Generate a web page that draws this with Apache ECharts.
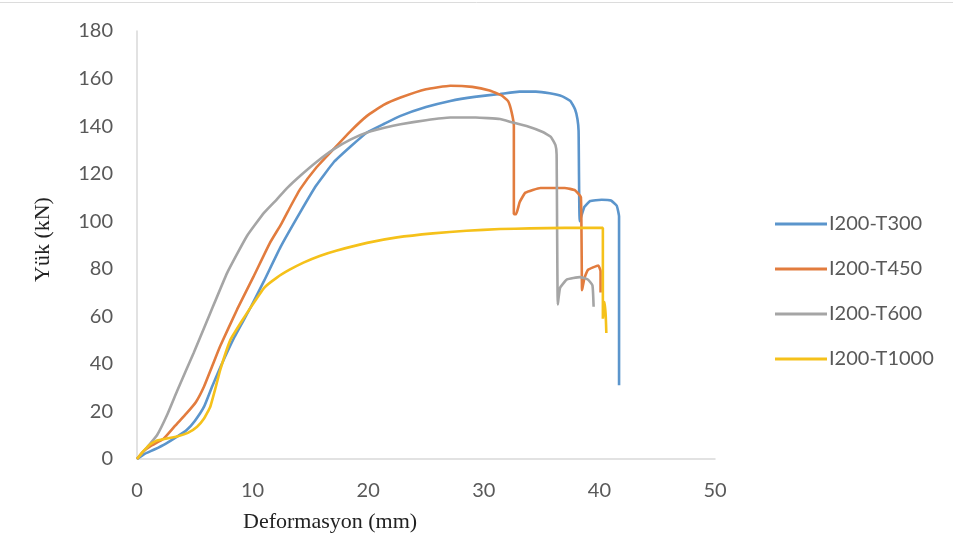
<!DOCTYPE html>
<html>
<head>
<meta charset="utf-8">
<script src="https://cdn.jsdelivr.net/npm/echarts@6/dist/echarts.min.js"></script>
<style>
  html, body { margin: 0; padding: 0; background: #fff; }
  #chart { width: 953px; height: 549px; }
</style>
</head>
<body>
<div id="chart"></div>
<script>
// Load–deformation curves, [deformation (mm), load (kN)]
const t300 = [[0,0],[0.6,2],[1.5,4],[2.5,6.5],[3.5,9.5],[4.3,12.2],[5,16],[5.8,22],[6.5,30.5],[7.2,38.5],[8.4,51],[9.8,63.5],[11,75],[12.4,89],[14.1,103.6],[15.5,115],[17,124.7],[18.5,131.5],[19.9,137.3],[21.4,141],[22.8,144.3],[25,148],[27.1,150.6],[29.2,152.3],[31.4,153.5],[33.1,154.5],[34.5,154.5],[35.7,153.8],[36.8,152.5],[37.5,150.5],[37.9,147],[38.1,143],[38.2,138],[38.3,100],[38.7,106],[39.2,108.5],[40.2,109],[41.0,108.7],[41.5,106.5],[41.7,102],[41.7,31]];
const t450 = [[0,0],[0.5,3],[1.2,5.5],[2.3,8.5],[3.3,14],[4.3,19.3],[5.1,24],[5.8,30.5],[6.5,39],[7.2,47.5],[8.65,62.8],[10.1,76.9],[11.5,90.9],[12.5,99],[13.3,106.4],[14.1,113.4],[15.5,122.5],[17,130.3],[18.5,138],[19.9,144.3],[21.3,148.8],[22.8,152],[25,155.5],[27.1,157],[29,156.5],[30.5,155],[31.5,153],[32.1,150.5],[32.4,146],[32.6,140],[32.6,103],[32.8,103],[33.1,108],[33.6,112],[34.9,114],[37,114],[37.9,113],[38.4,110],[38.5,71],[38.7,76],[39.0,79.5],[39.9,81.4],[40.1,79],[40.1,70]];
const t600 = [[0,0],[0.8,4.5],[1.73,10],[2.6,18.5],[3.46,28.5],[4.9,44.6],[6.34,61.4],[7.8,78.3],[9.5,93.7],[11,103.6],[12.1,109.2],[13,114],[14.1,119],[15.5,124.8],[17,130.2],[18.5,134.4],[19.9,137.3],[21.4,139.3],[22.8,140.8],[25,142.5],[27.1,143.6],[29.3,143.6],[31.4,143],[32.5,141.5],[33.7,140],[35.1,137.5],[35.8,135.5],[36.2,132],[36.3,128],[36.4,65],[36.6,72],[37.2,75.5],[38.3,76.5],[39.0,75.5],[39.4,73],[39.5,64]];
const t1000 = [[0,0],[0.5,3],[1.1,6],[1.73,7.8],[3.46,9.5],[4.4,11],[5.2,13.6],[5.8,17],[6.34,22],[6.8,30],[7.2,37.5],[8.07,50],[9,57.5],[9.8,63.5],[11,72],[12.1,76.3],[13.2,79.6],[14.4,82.6],[15.8,85.4],[17.3,87.7],[19.9,90.9],[22.5,93.2],[25.6,94.9],[28.5,96],[31.4,96.7],[34,97],[37,97.2],[40.3,97.2],[40.3,59],[40.45,66],[40.55,60],[40.6,53]];

const seriesNames = ['I200-T300', 'I200-T450', 'I200-T600', 'I200-T1000'];
const seriesData = [t300, t450, t600, t1000];
const colors = ['#5b95cc', '#e27c3e', '#a5a5a5', '#f5c11a'];

const xRange = { min: 0, max: 50, interval: 10 };
const yRange = { min: 0, max: 180, interval: 20 };

const labelFont = 'Lato, "Open Sans", sans-serif';
const titleFont = '"Liberation Serif", "DejaVu Serif", serif';

const chart = echarts.init(document.getElementById('chart'));
chart.setOption({
  animation: false,
  backgroundColor: '#ffffff',
  color: colors,
  grid: { left: 137, right: 238, top: 31, bottom: 90, containLabel: false },
  xAxis: {
    type: 'value',
    min: xRange.min, max: xRange.max, interval: xRange.interval,
    axisLine: { show: true, lineStyle: { color: '#d9d9d9', width: 1.5 } },
    axisTick: { show: false },
    splitLine: { show: false },
    axisLabel: { color: '#595959', fontFamily: labelFont, fontSize: 20, margin: 22 }
  },
  yAxis: {
    type: 'value',
    min: yRange.min, max: yRange.max, interval: yRange.interval,
    axisLine: { show: true, lineStyle: { color: '#d9d9d9', width: 1.5 } },
    axisTick: { show: false },
    splitLine: { show: false },
    axisLabel: { color: '#595959', fontFamily: labelFont, fontSize: 20, margin: 24 }
  },
  legend: {
    orient: 'vertical',
    left: 770, top: 209,
    itemWidth: 52, itemHeight: 16, itemGap: 25,
    icon: 'path://M0,7 L52,7 L52,10 L0,10 Z',
    textStyle: { color: '#595959', fontFamily: labelFont, fontSize: 20, padding: [0, 0, 0, -3] },
    data: seriesNames
  },
  graphic: [
    { type: 'line', shape: { x1: 0, y1: 2.5, x2: 953, y2: 2.5 }, style: { stroke: '#dcdcdc', lineWidth: 1 } },
    { type: 'text', left: 243, top: 511, style: { text: 'Deformasyon (mm)', fill: '#222', font: '22px ' + titleFont } },
    { type: 'text', x: 32, y: 282, rotation: Math.PI / 2, style: { text: 'Yük (kN)', fill: '#222', font: '22px ' + titleFont } }
  ],
  series: seriesNames.map((name, i) => ({
    name: name,
    type: 'line',
    data: seriesData[i],
    showSymbol: false,
    smooth: 0.12,
    lineStyle: { width: 2.6, color: colors[i] },
    itemStyle: { color: colors[i] }
  }))
});
</script>
</body>
</html>
